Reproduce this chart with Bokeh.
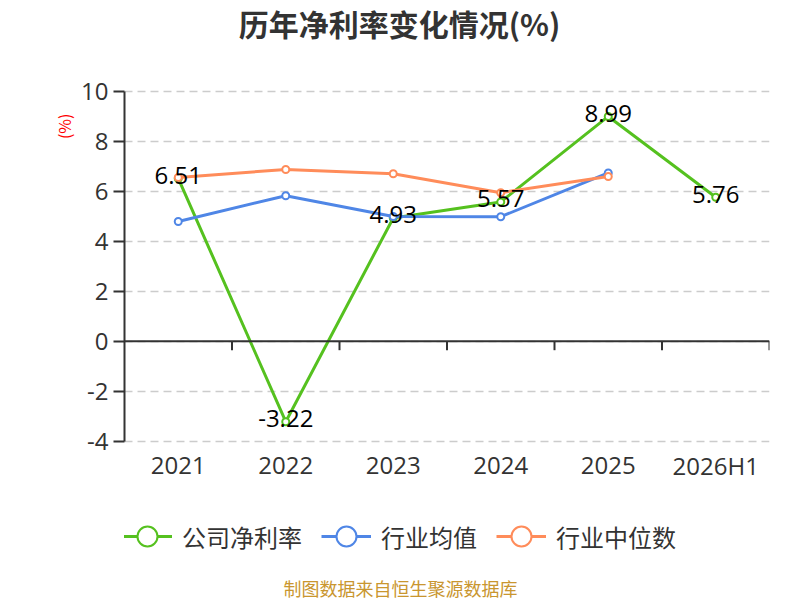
import math
from bokeh.plotting import figure
from bokeh.models import (Range1d, FixedTicker, Span, Label, Legend, Title,
                          LegendItem, ColumnDataSource)
from bokeh.core.properties import value
from bokeh.embed import file_html
from bokeh.resources import INLINE

# ---- data ----
categories = ["2021", "2022", "2023", "2024", "2025", "2026H1"]
company = [6.51, -3.22, 4.93, 5.57, 8.99, 5.76]
ind_mean = [4.79, 5.82, 4.99, 4.98, 6.73]
ind_median = [6.55, 6.87, 6.70, 5.94, 6.59]
series_names = ["公司净利率", "行业均值", "行业中位数"]
y_ticks = [-4, -2, 0, 2, 4, 6, 8, 10]
title_text = "历年净利率变化情况(%)"
unit_text = "(%)"
footer_text = "制图数据来自恒生聚源数据库"

colors = ["#55c11f", "#4f86e6", "#ff8c5a"]
CJK = "Noto Sans CJK SC"
NUM = "Open Sans"

# ---- layout constants (pixels) ----
W, H = 800, 600
LEFT, RIGHT = 124, 31
TOP_PX = 90.7          # pixel row of the top y tick
PPU = 25.0             # pixels per y unit
y_max = y_ticks[-1] + TOP_PX / PPU
y_min = y_max - H / PPU

n = len(categories)
p = figure(width=W, height=H, x_range=Range1d(0, n), y_range=Range1d(y_min, y_max),
           output_backend="svg", toolbar_location=None, x_axis_type=None, title=None,
           min_border_left=LEFT, min_border_right=RIGHT, min_border_top=0, min_border_bottom=0)
p.outline_line_color = None
p.xgrid.visible = False
p.background_fill_color = "white"
p.border_fill_color = "white"

def px_to_y(py):
    return y_max - py / PPU

# y axis
ya = p.yaxis[0]
ya.ticker = FixedTicker(ticks=y_ticks)
ya.bounds = (y_ticks[0], y_ticks[-1])
ya.major_label_overrides = {t: str(t) for t in y_ticks}
ya.axis_line_color = "#333333"
ya.axis_line_width = 2
ya.major_tick_line_color = "#333333"
ya.major_tick_line_width = 2
ya.major_tick_out = 11
ya.major_tick_in = 0
ya.minor_tick_line_color = None
ya.major_label_standoff = 5
ya.major_label_text_font = NUM
ya.major_label_text_font_size = "24px"
ya.major_label_text_color = "#333333"

# unit label on the left, near the top
unit_title = Title(text=unit_text, align="right", vertical_align="middle", offset=113,
                   standoff=4, text_font=CJK, text_font_style="normal",
                   text_font_size="16px", text_color="#ff0000")
p.add_layout(unit_title, "left")

p.ygrid.ticker = FixedTicker(ticks=y_ticks)
p.ygrid.grid_line_color = "#cccccc"
p.ygrid.grid_line_width = 1.5
p.ygrid.grid_line_dash = "8 5"

centers = [i + 0.5 for i in range(n)]

# zero line acting as category axis with boundary ticks
p.add_layout(Span(location=0, dimension="width", line_color="#333333", line_width=2))
bounds = [i + 1 for i in range(n)]
p.segment(x0=bounds, y0=[0] * n, x1=bounds, y1=[-9 / PPU] * n, line_color="#333333", line_width=2)

# category labels under the plot
cat_src = ColumnDataSource(dict(x=centers, y=[px_to_y(465)] * n, t=categories))
p.text("x", "y", text="t", source=cat_src, text_align="center", text_baseline="middle",
       text_font=value(NUM), text_font_size="24px", text_color="#333333")

# series
items = []
for name, vals, col in zip(series_names, [company, ind_mean, ind_median], colors):
    src = ColumnDataSource(dict(x=centers[:len(vals)], y=vals))
    r = p.line("x", "y", source=src, line_color=col, line_width=3)
    s = p.scatter("x", "y", source=src, marker="circle", size=7, fill_color="white",
                  line_color=col, line_width=2)
    items.append(LegendItem(label=name, renderers=[r, s]))

# data labels for company
lab_src = ColumnDataSource(dict(x=centers, y=company, t=[f"{v:.2f}" for v in company]))
p.text("x", "y", text="t", source=lab_src, text_align="center", text_baseline="middle",
       text_font=value(NUM), text_font_size="24px", text_color="black", y_offset=-3)

legend = Legend(items=items, orientation="horizontal", location=(-2, 38),
                glyph_width=50, glyph_height=52, label_standoff=10, spacing=19,
                padding=0, margin=0, border_line_color=None, background_fill_alpha=0,
                label_text_font=CJK, label_text_font_size="24px", label_text_color="#333333")
p.add_layout(legend, "center")

# title and footer
p.add_layout(Label(x=399 - LEFT, y=H - 22, x_units="screen", y_units="screen", text=title_text,
                   text_align="center", text_baseline="middle", text_font=CJK,
                   text_font_size="30px", text_font_style="bold", text_color="#333333"))
p.add_layout(Label(x=400 - LEFT, y=H - 587, x_units="screen", y_units="screen", text=footer_text,
                   text_align="center", text_baseline="middle", text_font=CJK,
                   text_font_size="18px", text_color="#c9962f"))

open("out.html", "w").write(file_html(p, INLINE))
